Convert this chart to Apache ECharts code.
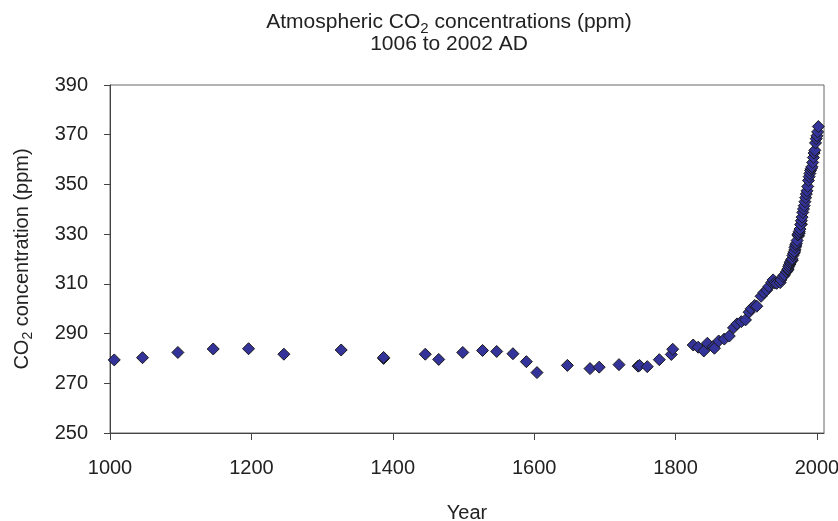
<!DOCTYPE html>
<html>
<head>
<meta charset="utf-8">
<script src="https://cdn.jsdelivr.net/npm/echarts@6/dist/echarts.min.js"></script>
<style>
  html, body { margin: 0; padding: 0; background: #fff; }
  #chart { width: 838px; height: 521px; }
</style>
</head>
<body>
<div id="chart"></div>
<script>
// Ice-core and Mauna Loa CO2 record, year AD and ppm
const years = [
  1006, 1046, 1096, 1146, 1196, 1246, 1327, 1387, 1387, 1446,
  1465, 1499, 1527, 1547, 1570, 1589, 1604, 1647, 1679, 1692,
  1720, 1747, 1749, 1760, 1777, 1794, 1796,
  1825, 1832, 1840, 1845, 1853, 1855, 1861, 1869, 1876, 1882,
  1887, 1893, 1899, 1904, 1907, 1912, 1915, 1921, 1925, 1929,
  1932, 1936, 1938, 1940, 1943, 1948, 1949, 1952, 1954, 1957,
  1959, 1962, 1965, 1968, 1969, 1970, 1974, 1975, 1978,
  1959, 1960, 1961, 1962, 1963, 1964, 1965, 1966, 1967, 1968,
  1969, 1970, 1971, 1972, 1973, 1974, 1975, 1976, 1977, 1978,
  1979, 1980, 1981, 1982, 1983, 1984, 1985, 1986, 1987, 1988,
  1989, 1990, 1991, 1992, 1993, 1994, 1995, 1996, 1997, 1998,
  1999, 2000, 2001, 2002
];
const co2 = [
  279.4, 280.3, 282.4, 283.8, 283.9, 281.7, 283.4, 280.0, 280.4, 281.7,
  279.6, 282.4, 283.2, 282.8, 281.9, 278.7, 274.3, 277.2, 275.9, 276.5,
  277.5, 276.9, 277.2, 276.7, 279.5, 281.6, 283.7,
  285.4, 284.5, 283.0, 286.1, 284.7, 284.1, 287.0, 287.8, 289.0, 292.3,
  293.9, 294.8, 295.5, 298.6, 300.0, 301.3, 301.0, 305.0, 306.5, 307.5,
  308.9, 310.5, 311.6, 310.3, 310.2, 310.5, 311.6, 313.0, 313.6, 314.9,
  315.7, 318.0, 319.5, 322.5, 323.7, 325.2, 329.3, 330.4, 334.0,
  315.98, 316.91, 317.64, 318.45, 318.99, 319.62, 320.04, 321.38, 322.16, 323.04,
  324.62, 325.68, 326.32, 327.45, 329.68, 330.18, 331.11, 332.04, 333.83, 335.40,
  336.84, 338.75, 340.11, 341.45, 343.05, 344.66, 346.12, 347.43, 349.18, 351.57,
  353.12, 354.39, 355.61, 356.45, 357.10, 358.83, 360.82, 362.61, 363.73, 366.70,
  368.38, 369.55, 371.14, 373.28
];

const titleLine1 = ['Atmospheric CO', '2', ' concentrations (ppm)'];
const titleLine2 = '1006 to 2002 AD';
const yName = ['CO', '2', ' concentration (ppm)'];
const xName = 'Year';

const points = years.map((y, i) => [y, co2[i]]);

const FONT = '"Liberation Sans", Arial, sans-serif';
// rich-text styles: normal run + subscript pushed down by top padding
function richStyles(size) {
  return {
    a: { fontFamily: FONT, fontSize: size, color: '#222', lineHeight: 22 },
    s: { fontFamily: FONT, fontSize: Math.round(size * 0.72), color: '#222', lineHeight: 22, padding: [13, 0, 0, 0] }
  };
}

const chart = echarts.init(document.getElementById('chart'), null, { renderer: 'canvas' });
chart.setOption({
  animation: false,
  backgroundColor: '#ffffff',
  title: {
    text: '{a|' + titleLine1[0] + '}{s|' + titleLine1[1] + '}{a|' + titleLine1[2] + '}\n{a|' + titleLine2 + '}',
    left: 444,
    top: 6,
    textAlign: 'center',
    textStyle: { rich: richStyles(21), fontFamily: FONT, fontSize: 21, fontWeight: 'normal', color: '#222' }
  },
  grid: {
    left: 110, right: 14, top: 85, bottom: 88,
    outerBoundsMode: 'none',
    containLabel: false,
    show: true, borderColor: '#666', borderWidth: 1, backgroundColor: '#fff'
  },
  xAxis: {
    type: 'value',
    min: 1000, max: 2010, interval: 200,
    name: xName,
    nameLocation: 'middle',
    nameGap: 70,
    nameTextStyle: { fontFamily: FONT, fontSize: 20, color: '#222' },
    axisLine: { show: true, lineStyle: { color: '#444', width: 1 } },
    axisTick: { show: true, inside: false, length: 7, lineStyle: { color: '#444' } },
    axisLabel: {
      margin: 25, fontFamily: FONT, fontSize: 20, color: '#222',
      showMaxLabel: false,
      formatter: v => (v % 200 === 0 ? String(v) : '')
    },
    splitLine: { show: false }
  },
  yAxis: {
    type: 'value',
    min: 250, max: 390, interval: 20,
    name: '{a|' + yName[0] + '}{s|' + yName[1] + '}{a|' + yName[2] + '}',
    nameLocation: 'middle',
    nameGap: 77,
    nameRotate: 90,
    nameTextStyle: { rich: richStyles(20), fontFamily: FONT, fontSize: 20, color: '#222' },
    axisLine: { show: true, lineStyle: { color: '#444', width: 1 } },
    axisTick: { show: true, inside: false, length: 6, lineStyle: { color: '#444' } },
    axisLabel: { margin: 22, fontFamily: FONT, fontSize: 20, color: '#222' },
    splitLine: { show: false }
  },
  series: [{
    type: 'scatter',
    data: points,
    symbol: 'diamond',
    symbolSize: 12,
    itemStyle: { color: '#333399', opacity: 1, borderColor: '#1a1a1a', borderWidth: 1 }
  }]
});
</script>
</body>
</html>
